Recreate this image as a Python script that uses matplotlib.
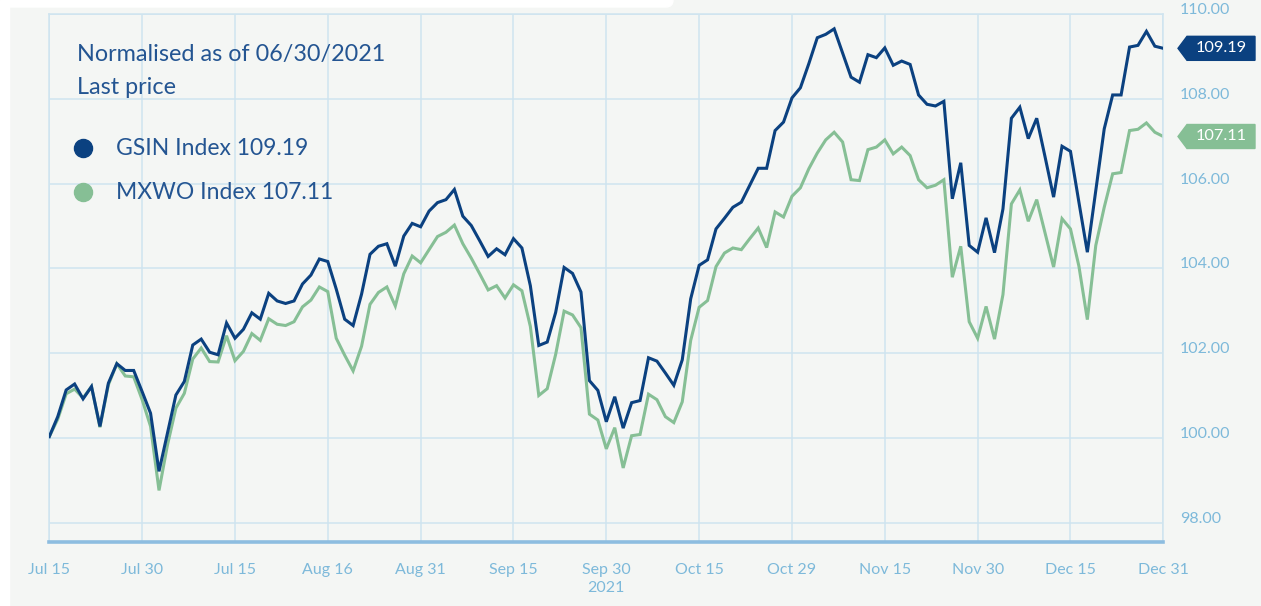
import matplotlib
matplotlib.use("Agg")
import matplotlib.pyplot as plt
from matplotlib.patches import Polygon, Rectangle, FancyBboxPatch
from matplotlib.transforms import IdentityTransform

plt.rcParams['font.family'] = ['Lato', 'DejaVu Sans']

# tick labels exactly as printed on the chart
x_labels = ["Jul 15", "Jul 30", "Jul 15", "Aug 16", "Aug 31", "Sep 15", "Sep 30\n2021",
            "Oct 15", "Oct 29", "Nov 15", "Nov 30", "Dec 15", "Dec 31"]
y_ticks = [98, 100, 102, 104, 106, 108, 110]

# normalised daily closes
gsin = [100.03, 100.50, 101.13, 101.27, 100.92, 101.21, 100.27, 101.29, 101.75, 101.59,
        101.59, 101.09, 100.58, 99.21, 100.11, 101.01, 101.33, 102.19, 102.33, 102.02,
        101.96, 102.71, 102.35, 102.56, 102.95, 102.80, 103.41, 103.23, 103.17, 103.23,
        103.63, 103.84, 104.22, 104.16, 103.51, 102.80, 102.65, 103.39, 104.33, 104.52,
        104.58, 104.05, 104.76, 105.06, 104.98, 105.35, 105.55, 105.62, 105.86, 105.23,
        105.01, 104.65, 104.28, 104.46, 104.32, 104.70, 104.48, 103.59, 102.18, 102.26,
        102.96, 104.02, 103.88, 103.44, 101.35, 101.12, 100.38, 100.97, 100.23, 100.83,
        100.88, 101.89, 101.81, 101.53, 101.24, 101.84, 103.28, 104.07, 104.20, 104.93,
        105.18, 105.44, 105.56, 105.96, 106.36, 106.36, 107.25, 107.45, 108.02, 108.26,
        108.83, 109.44, 109.52, 109.65, 109.08, 108.51, 108.39, 109.04, 108.97, 109.20,
        108.79, 108.89, 108.81, 108.09, 107.87, 107.83, 107.94, 105.64, 106.49, 104.54,
        104.38, 105.19, 104.37, 105.40, 107.54, 107.80, 107.06, 107.54, 106.62, 105.68,
        106.88, 106.76, 105.56, 104.38, 105.84, 107.29, 108.09, 108.09, 109.22, 109.26,
        109.59, 109.24, 109.19]

mxwo = [100.03, 100.44, 101.04, 101.15, 100.94, 101.21, 100.25, 101.25, 101.75, 101.46,
        101.44, 100.90, 100.27, 98.76, 99.83, 100.70, 101.05, 101.86, 102.12, 101.80,
        101.79, 102.41, 101.82, 102.04, 102.46, 102.30, 102.81, 102.68, 102.65, 102.74,
        103.09, 103.25, 103.56, 103.45, 102.35, 101.95, 101.58, 102.16, 103.15, 103.43,
        103.56, 103.11, 103.87, 104.29, 104.13, 104.44, 104.75, 104.85, 105.02, 104.58,
        104.24, 103.87, 103.49, 103.59, 103.30, 103.61, 103.47, 102.63, 101.00, 101.16,
        101.97, 102.99, 102.90, 102.60, 100.56, 100.42, 99.74, 100.24, 99.29, 100.05,
        100.08, 101.03, 100.90, 100.50, 100.36, 100.85, 102.30, 103.08, 103.24, 104.04,
        104.36, 104.48, 104.44, 104.70, 104.95, 104.49, 105.33, 105.21, 105.70, 105.90,
        106.35, 106.72, 107.03, 107.21, 106.98, 106.09, 106.07, 106.80, 106.86, 107.03,
        106.70, 106.86, 106.66, 106.09, 105.90, 105.96, 106.09, 103.79, 104.52, 102.74,
        102.35, 103.10, 102.33, 103.38, 105.52, 105.85, 105.11, 105.62, 104.82, 104.03,
        105.17, 104.93, 104.05, 102.79, 104.54, 105.44, 106.23, 106.26, 107.25, 107.28,
        107.43, 107.21, 107.11]

series_names = ["GSIN Index", "MXWO Index"]
last_values = [gsin[-1], mxwo[-1]]

BLUE = '#0b4180'
GREEN = '#86bf95'
GRID = '#cfe4ef'
TICK = '#7db9da'
TEXT = '#245592'
BG = '#f4f6f4'

W, H = 1261, 606
fig = plt.figure(figsize=(W / 100, H / 100), dpi=100, facecolor=BG)

# screenshot edges (white strip on the left and top-left)
fig.add_artist(Rectangle((0, 0), 9, H, transform=IdentityTransform(), color='white', zorder=0))
fig.add_artist(FancyBboxPatch((0, H - 7), 673, 14, boxstyle="round,pad=0,rounding_size=7",
                              transform=IdentityTransform(), color='white', zorder=0))

ax = fig.add_axes([49.3 / W, 1 - 541.7 / H, (1163.3 - 49.3) / W, (541.7 - 14) / H])
ax.set_facecolor(BG)

x = list(range(len(gsin)))
ax.plot(x, gsin, color=BLUE, lw=2.2, zorder=3, solid_joinstyle='miter')
ax.plot(x, mxwo, color=GREEN, lw=2.2, zorder=2, solid_joinstyle='miter')

ax.set_xlim(0, len(gsin) - 1)
ax.set_ylim(97.55, 110)

xt = [i * (len(gsin) - 1) / (len(x_labels) - 1) for i in range(len(x_labels))]
ax.set_xticks(xt)
ax.set_xticklabels(x_labels, color=TICK, fontsize=11.5, linespacing=1.45)
ax.set_yticks(y_ticks)
ax.set_yticklabels([f"{v:.2f}" for v in y_ticks], color=TICK, fontsize=11.5)
ax.yaxis.tick_right()
for lbl in ax.get_yticklabels():
    lbl.set_va('baseline')
ax.tick_params(axis='x', length=0, pad=15)
ax.tick_params(axis='y', length=0, pad=12)
ax.grid(True, color=GRID, lw=1.1)
ax.set_axisbelow(True)

for side in ['left', 'right', 'top']:
    ax.spines[side].set_color(GRID)
    ax.spines[side].set_linewidth(1.1)
ax.spines['bottom'].set_color('#8dbde0')
ax.spines['bottom'].set_linewidth(2.6)

# legend block
fig.text(77 / W, 1 - 54 / H, "Normalised as of 06/30/2021", color=TEXT, fontsize=16.8,
         va='center', ha='left')
fig.text(77 / W, 1 - 87 / H, "Last price", color=TEXT, fontsize=16.8,
         va='center', ha='left')
for name, val, col, yy in zip(series_names, last_values, [BLUE, GREEN], [148, 192]):
    fig.add_artist(plt.Line2D([83 / W], [1 - yy / H], marker='o', markersize=13,
                              color=col, transform=fig.transFigure))
    fig.text(116 / W, 1 - yy / H, f"{name} {val:.2f}", color=TEXT, fontsize=16.5,
             va='center', ha='left')

# last price tags on the right
fig.canvas.draw()
for val, col in zip(last_values, [BLUE, GREEN]):
    yd = ax.transData.transform((0, val))[1]
    pts = [(1178, yd), (1187, yd + 12), (1255, yd + 12), (1255, yd - 12), (1187, yd - 12)]
    fig.add_artist(Polygon(pts, closed=True, transform=IdentityTransform(), color=col))
    fig.text(1221 / W, yd / H, f"{val:.2f}", color='white', fontsize=11.8,
             ha='center', va='center')

fig.savefig("out.png", dpi=100, facecolor=BG)
